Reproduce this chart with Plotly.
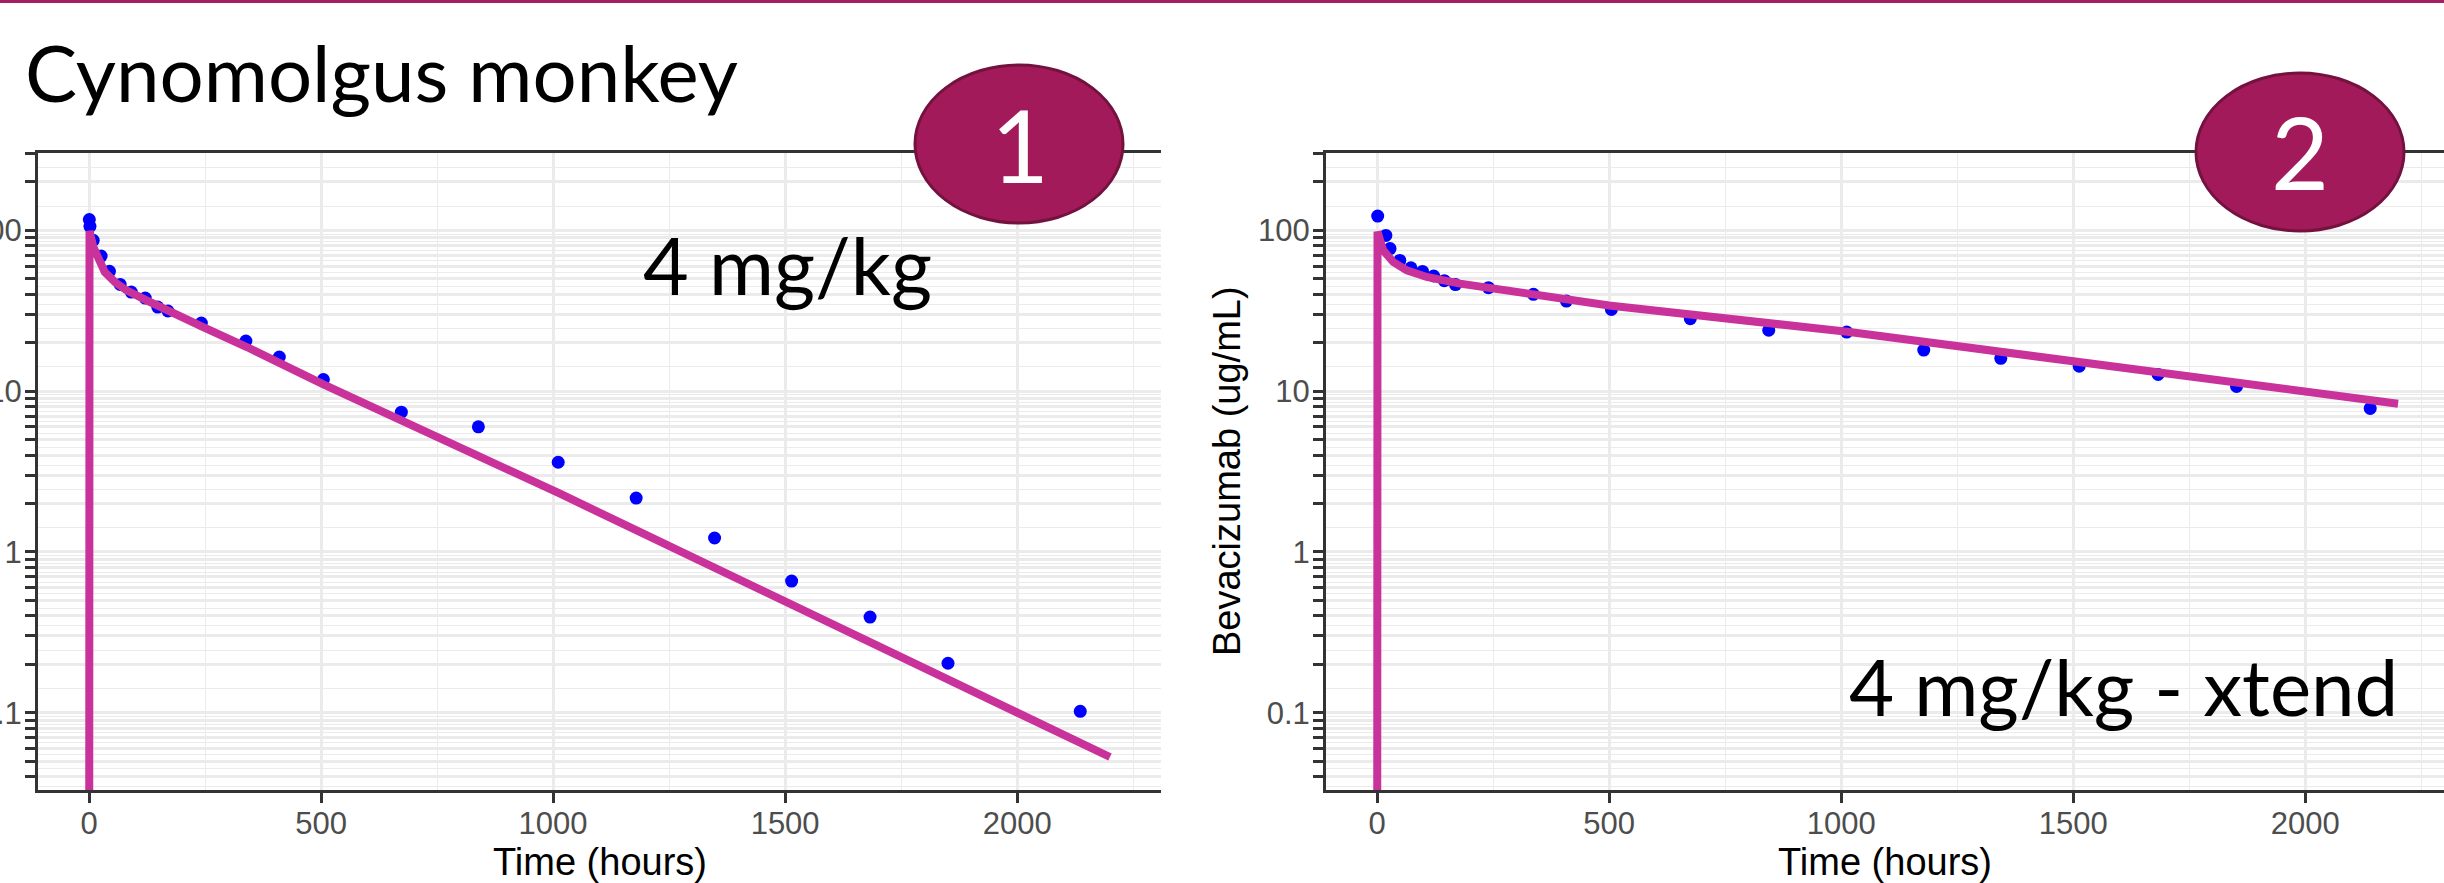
import plotly.graph_objects as go

W, H = 2444, 883

# ---------------- data ----------------
left_obs_time = [0.6, 2, 9, 26, 44, 67, 91, 121, 148, 170, 242, 338, 410, 505, 673, 839, 1011,
                 1179, 1348, 1514, 1683, 1851, 2136]
left_obs_conc = [116.6, 105.9, 86.7, 69.2, 55.6, 46.1, 41.3, 37.9, 33.3, 31.5, 26.5, 20.5, 16.3,
                 11.8, 7.4, 6.0, 3.61, 2.16, 1.22, 0.658, 0.393, 0.203, 0.102]

left_pred_time = [0, 1, 9, 20, 34, 56, 81, 124, 174, 246, 340, 505, 1015, 2200]
left_pred_conc = [1e-4, 99, 79, 65, 55, 47.6, 42.3, 36.7, 31, 25, 18.8, 11.0, 2.30, 0.053]

right_obs_time = [1.4, 19, 28, 49, 73, 98, 122, 145, 169, 240, 337, 408, 505, 675, 844, 1012,
                  1178, 1344, 1513, 1683, 1852, 2140]
right_obs_conc = [122.7, 93, 77, 65, 58.5, 55.5, 52, 48.6, 46, 44.0, 40.0, 36.3, 32.2, 28.2, 23.9,
                  23.3, 18.0, 16.0, 14.3, 12.7, 10.7, 7.8]

right_pred_time = [0, 1, 13, 35, 64, 107, 179, 300, 500, 1018, 2200]
right_pred_conc = [1e-4, 98, 75.2, 63.5, 56.4, 51.3, 46.6, 41.3, 34.1, 23.3, 8.35]

x_tick_vals = [0, 500, 1000, 1500, 2000]
x_tick_labels = ["0", "500", "1000", "1500", "2000"]
x_minor_vals = [250, 750, 1250, 1750, 2250]

y_decades = [0.01, 0.1, 1, 10, 100]
y_decade_labels = ["0.01", "0.1", "1", "10", "100"]
y_multipliers = [1, 2, 3, 4, 5, 6, 7, 8, 9]

y_log_range = [-1.481, 2.481]

# ---------------- styling ----------------
LINE_COL = "#C9329A"
PT_COL = "#0000FF"
BORDER = "#333333"
GRID = "#EBEBEB"
BADGE = "#A21A5A"
BADGE_EDGE = "#74123F"
TICK_FONT = dict(family="Liberation Sans, Arial, sans-serif", size=31, color="#4D4D4D")
SLIDE_FONT = "Lato, Carlito, Calibri, sans-serif"

lo, hi = 10 ** y_log_range[0], 10 ** y_log_range[1]
y_tick_vals, y_tick_text = [], []
for d, lab in zip(y_decades, y_decade_labels):
    for m in y_multipliers:
        v = m * d
        if lo <= v <= hi:
            y_tick_vals.append(v)
            y_tick_text.append(lab if m == 1 else "")
y_minor_vals = []
for d in y_decades:
    for m in y_multipliers:
        v = (m * (m + 1)) ** 0.5 * d
        if lo <= v <= hi:
            y_minor_vals.append(v)


def px_x(p):
    return p / W


def px_y(p):
    return 1 - p / H


fig = go.Figure()
fig.add_trace(go.Scatter(x=left_obs_time, y=left_obs_conc, mode="markers",
                         marker=dict(color=PT_COL, size=13, line=dict(width=0)),
                         xaxis="x", yaxis="y", showlegend=False))
fig.add_trace(go.Scatter(x=left_pred_time, y=left_pred_conc, mode="lines",
                         line=dict(color=LINE_COL, width=8),
                         xaxis="x", yaxis="y", showlegend=False))
fig.add_trace(go.Scatter(x=right_obs_time, y=right_obs_conc, mode="markers",
                         marker=dict(color=PT_COL, size=13, line=dict(width=0)),
                         xaxis="x2", yaxis="y2", showlegend=False))
fig.add_trace(go.Scatter(x=right_pred_time, y=right_pred_conc, mode="lines",
                         line=dict(color=LINE_COL, width=8),
                         xaxis="x2", yaxis="y2", showlegend=False))

xcommon = dict(tickmode="array", tickvals=x_tick_vals, ticktext=x_tick_labels,
               ticks="outside", ticklen=10, tickwidth=3, tickcolor=BORDER,
               showline=True, linecolor=BORDER, linewidth=3, mirror=True,
               showgrid=True, gridcolor=GRID, gridwidth=2.5, zeroline=False,
               minor=dict(tickmode="array", tickvals=x_minor_vals, showgrid=True,
                          gridcolor=GRID, gridwidth=1.3, ticks=""),
               tickfont=TICK_FONT, automargin=False, ticklabelstandoff=-6)
ycommon = dict(type="log", range=y_log_range, tickmode="array", tickvals=y_tick_vals,
               ticktext=y_tick_text, ticks="outside", ticklen=10, tickwidth=3,
               tickcolor=BORDER, showline=True, linecolor=BORDER, linewidth=3,
               showgrid=True, gridcolor=GRID, gridwidth=2.5, zeroline=False,
               minor=dict(tickmode="array", tickvals=y_minor_vals, showgrid=True,
                          gridcolor=GRID, gridwidth=1.3, ticks=""),
               tickfont=TICK_FONT, automargin=False, ticklabelstandoff=-3)

ydom = [px_y(790), px_y(153)]
fig.update_layout(
    width=W, height=H,
    margin=dict(l=0, r=0, t=0, b=0, pad=0),
    paper_bgcolor="white", plot_bgcolor="white",
    showlegend=False,
    xaxis=dict(domain=[px_x(38), px_x(1161)], anchor="y", range=[-110, 2310], **xcommon),
    yaxis=dict(domain=ydom, anchor="x", **ycommon),
    xaxis2=dict(domain=[px_x(1326), 1.0], anchor="y2", range=[-110, 2299], **xcommon),
    yaxis2=dict(domain=ydom, anchor="x2", **{**ycommon, "mirror": False}),
)

shapes = [
    dict(type="line", xref="paper", yref="paper", x0=0, x1=1, y0=px_y(1.5), y1=px_y(1.5),
         line=dict(color="#A3215E", width=3), layer="above"),
    dict(type="circle", xref="paper", yref="paper", x0=px_x(915), x1=px_x(1123),
         y0=px_y(223), y1=px_y(65), fillcolor=BADGE, line=dict(color=BADGE_EDGE, width=3),
         layer="above"),
    dict(type="circle", xref="paper", yref="paper", x0=px_x(2196), x1=px_x(2404),
         y0=px_y(231), y1=px_y(73), fillcolor=BADGE, line=dict(color=BADGE_EDGE, width=3),
         layer="above"),
]
fig.update_layout(shapes=shapes)

ann = [
    dict(text="Cynomolgus monkey", x=px_x(23), y=px_y(72), xanchor="left", yanchor="middle",
         font=dict(family=SLIDE_FONT, size=78, color="black")),
    dict(text="4 mg/kg", x=px_x(787), y=px_y(265), xanchor="center", yanchor="middle",
         font=dict(family=SLIDE_FONT, size=79, color="black")),
    dict(text="4 mg/kg - xtend", x=px_x(2123), y=px_y(686), xanchor="center", yanchor="middle",
         font=dict(family=SLIDE_FONT, size=78, color="black")),
    dict(text="1", x=px_x(1020), y=px_y(144), xanchor="center", yanchor="middle",
         font=dict(family=SLIDE_FONT, size=100, color="white")),
    dict(text="2", x=px_x(2300), y=px_y(151), xanchor="center", yanchor="middle",
         font=dict(family=SLIDE_FONT, size=100, color="white")),
    dict(text="Time (hours)", x=px_x(600), y=px_y(862), xanchor="center", yanchor="middle",
         font=dict(family="Liberation Sans, Arial, sans-serif", size=38, color="black")),
    dict(text="Time (hours)", x=px_x(1885), y=px_y(862), xanchor="center", yanchor="middle",
         font=dict(family="Liberation Sans, Arial, sans-serif", size=38, color="black")),
    dict(text="Bevacizumab (ug/mL)", x=px_x(1227), y=px_y(471), xanchor="center",
         yanchor="middle", textangle=-90,
         font=dict(family="Liberation Sans, Arial, sans-serif", size=38, color="black")),
]
for a in ann:
    a.update(xref="paper", yref="paper", showarrow=False)
fig.update_layout(annotations=ann)

fig.write_html("out.html",
               config={"displayModeBar": False},
               post_script="document.body.style.margin='0';document.body.style.overflow='hidden';")
